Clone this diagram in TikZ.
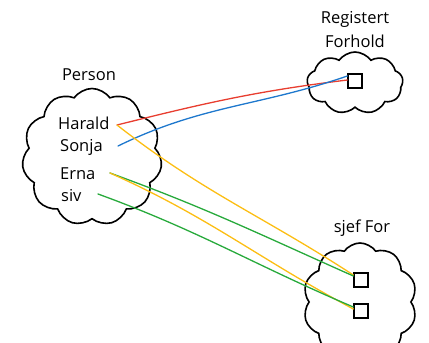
\documentclass[tikz,border=0pt]{standalone}
\usepackage{fontspec}
\setmainfont{Open Sans}
\usetikzlibrary{shapes.symbols}
\definecolor{cred}{RGB}{232,62,48}
\definecolor{cblue}{RGB}{30,120,205}
\definecolor{cyel}{RGB}{252,190,20}
\definecolor{cgreen}{RGB}{40,170,60}
\tikzset{
  blob/.style={cloud, draw=black, line width=1.6pt, cloud puffs=11, cloud puff arc=110, inner sep=0pt},
  lbl/.style={font=\fontsize{16.5}{24}\selectfont, inner sep=0pt, text=black},
  item/.style={lbl, anchor=west},
  sq/.style={draw=black, line width=1.3pt, minimum width=14pt, minimum height=14pt, inner sep=0pt},
  link/.style={line width=1.3pt, line cap=round}
}
\begin{document}
\begin{tikzpicture}[x=1pt,y=-1pt]
\useasboundingbox (0,0) rectangle (429,343);
\clip (0,0) rectangle (429,343);
% clouds
\node[blob, minimum width=140pt, minimum height=137pt] (pc) at (92,157) {};
\node[blob, cloud puffs=9, minimum width=96pt, minimum height=62pt] (rc) at (355,83) {};
\node[blob, cloud puffs=10, minimum width=114pt, minimum height=118pt] (sc) at (360,302) {};
% labels
\node[lbl] (person) at (89,75) {Person};
\node[lbl, align=center] (reg) at (355,30) {Registert\\Forhold};
\node[lbl] (sjef) at (362,228) {sjef For};
% items
\node[item] (harald) at (58,123) {Harald};
\node[item] (sonja) at (60,147) {Sonja};
\node[item] (erna) at (60,174) {Erna};
\node[item] (siv) at (61,196) {siv};
% squares
\node[sq] (r1) at (355,81) {};
\node[sq] (s1) at (361,280) {};
\node[sq] (s2) at (361,311) {};
% connector ends
\coordinate (ha) at ([xshift=59pt,yshift=-2pt]harald.west);
\coordinate (so) at ([xshift=58pt,yshift=1pt]sonja.west);
\coordinate (er) at ([xshift=50pt,yshift=1pt]erna.west);
\coordinate (si) at ([xshift=37pt,yshift=2pt]siv.west);
\draw[link, cred] (ha) to[out=14, in=187] ([yshift=1pt]r1.west);
\draw[link, cblue] (so) to[out=26, in=199] ([yshift=5pt]r1.west);
\draw[link, cyel] (ha) to[out=-38, in=147] ([yshift=5pt]s1.west);
\draw[link, cgreen] (er) to[out=-20, in=156] ([yshift=4pt]s1.west);
\draw[link, cyel] (er) to[out=-24, in=152] ([yshift=2pt]s2.west);
\draw[link, cgreen] (si) to[out=-20, in=157] ([yshift=4pt]s2.west);
\end{tikzpicture}
\end{document}
